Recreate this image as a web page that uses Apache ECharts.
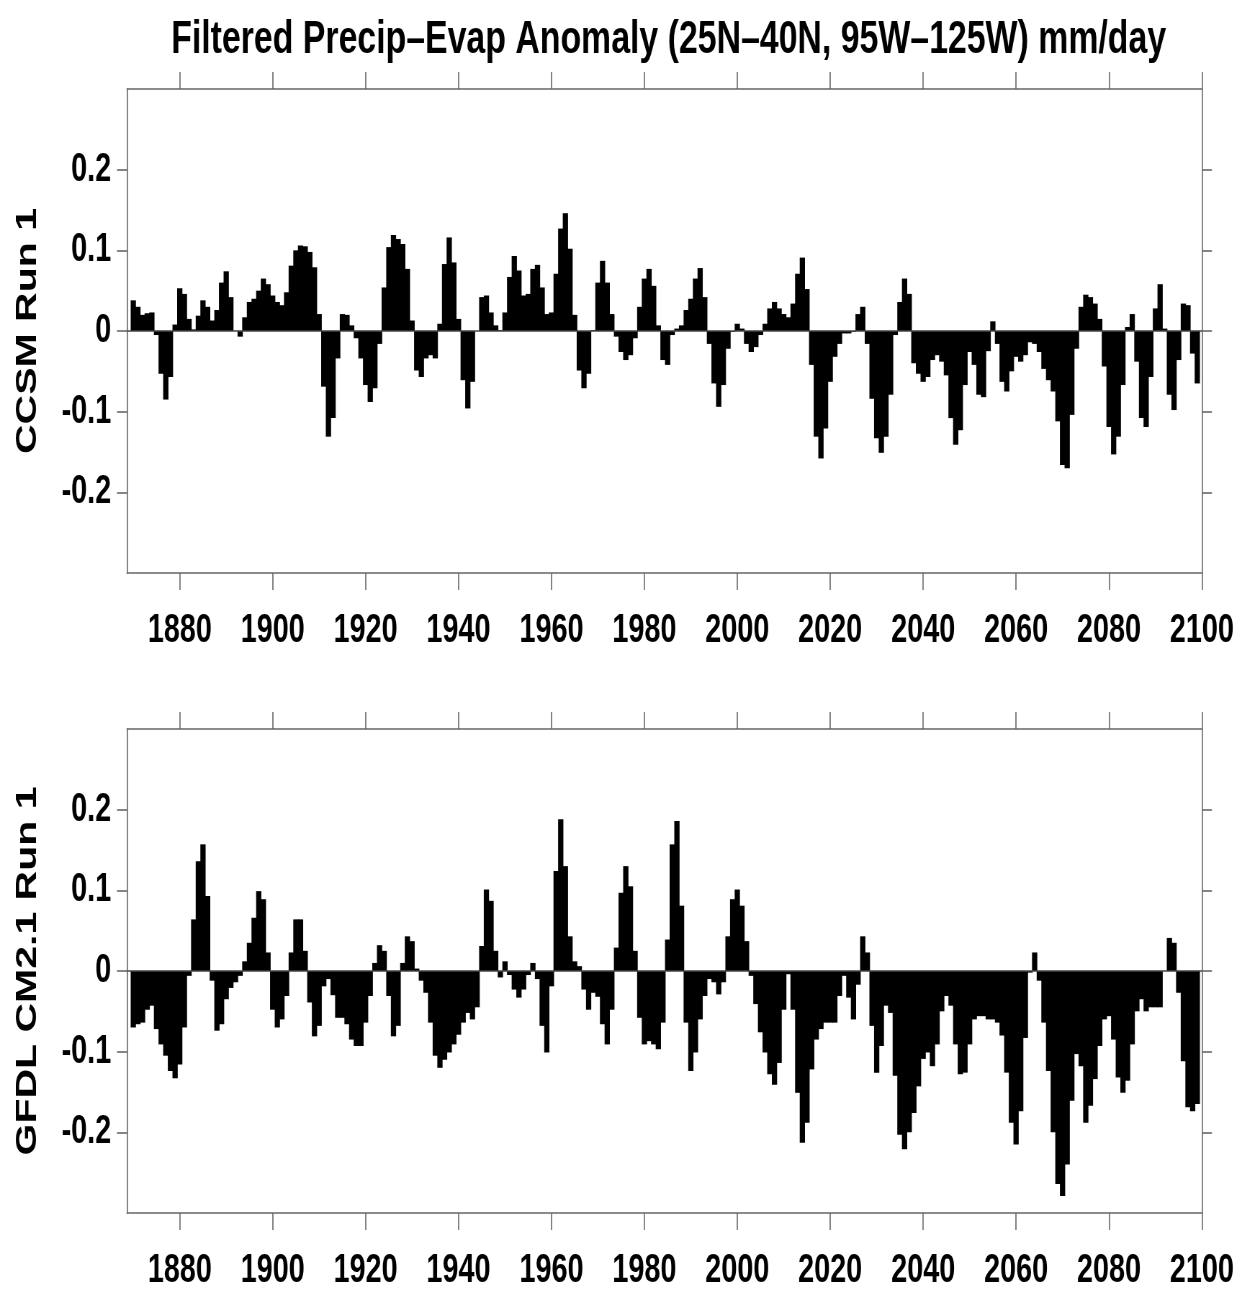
<!DOCTYPE html>
<html>
<head>
<meta charset="utf-8">
<script src="https://cdn.jsdelivr.net/npm/echarts@6/dist/echarts.min.js"></script>
<style>
html,body{margin:0;padding:0;background:#fff;overflow:hidden;}
#wrap{width:1250px;height:1293px;overflow:hidden;position:relative;}
#chart{width:1736px;height:1293px;transform:scaleX(0.72);transform-origin:0 0;position:absolute;left:0;top:0;}
</style>
</head>
<body>
<div id="wrap"><div id="chart"></div></div>
<script>
const START_YEAR = 1870;
const END_YEAR = 2099;
const tickYears = [1880, 1900, 1920, 1940, 1960, 1980, 2000, 2020, 2040, 2060, 2080, 2100];
const tickValues = [-0.2, -0.1, 0, 0.1, 0.2];
const titleText = 'Filtered Precip–Evap Anomaly (25N–40N, 95W–125W) mm/day';
const panelNames = ['CCSM Run 1', 'GFDL CM2.1 Run 1'];

// CCSM Run 1, one value per year 1870..2099
const ccsm = [
  0.038, 0.030, 0.020, 0.022, 0.023, -0.005, -0.053, -0.085, -0.057, 0.008,
  0.053, 0.046, 0.015, 0.002, 0.019, 0.038, 0.030, 0.013, 0.026, 0.060,
  0.074, 0.042, 0.000, -0.007, 0.017, 0.036, 0.040, 0.050, 0.065, 0.058,
  0.044, 0.036, 0.032, 0.048, 0.081, 0.100, 0.106, 0.105, 0.098, 0.079,
  0.021, -0.069, -0.131, -0.108, -0.034, 0.021, 0.020, 0.007, -0.009, -0.034,
  -0.067, -0.088, -0.071, -0.016, 0.054, 0.104, 0.119, 0.114, 0.108, 0.077,
  0.013, -0.049, -0.057, -0.034, -0.030, -0.034, 0.009, 0.083, 0.116, 0.085,
  0.015, -0.061, -0.096, -0.063, 0.000, 0.042, 0.044, 0.023, 0.007, 0.001,
  0.023, 0.067, 0.093, 0.075, 0.044, 0.046, 0.077, 0.082, 0.054, 0.021,
  0.023, 0.071, 0.127, 0.146, 0.102, 0.020, -0.049, -0.071, -0.053, 0.001,
  0.060, 0.087, 0.060, 0.021, -0.007, -0.026, -0.036, -0.030, -0.009, 0.030,
  0.065, 0.077, 0.056, 0.007, -0.036, -0.042, -0.005, 0.003, 0.007, 0.026,
  0.040, 0.065, 0.078, 0.042, -0.016, -0.065, -0.094, -0.067, -0.022, -0.001,
  0.009, 0.003, -0.016, -0.026, -0.020, -0.005, 0.009, 0.028, 0.036, 0.028,
  0.021, 0.017, 0.034, 0.071, 0.091, 0.052, -0.042, -0.131, -0.158, -0.121,
  -0.063, -0.032, -0.016, -0.003, -0.003, -0.001, 0.021, 0.030, -0.016, -0.084,
  -0.133, -0.151, -0.131, -0.079, -0.005, 0.036, 0.065, 0.046, -0.040, -0.053,
  -0.063, -0.057, -0.036, -0.030, -0.038, -0.055, -0.108, -0.141, -0.123, -0.067,
  -0.026, -0.042, -0.079, -0.082, -0.025, 0.012, -0.016, -0.063, -0.075, -0.050,
  -0.032, -0.038, -0.030, -0.014, -0.016, -0.026, -0.047, -0.061, -0.075, -0.112,
  -0.166, -0.170, -0.104, -0.022, 0.030, 0.045, 0.042, 0.034, 0.015, -0.044,
  -0.119, -0.153, -0.131, -0.067, 0.005, 0.021, -0.038, -0.108, -0.119, -0.057,
  0.028, 0.058, 0.003, -0.079, -0.098, -0.036, 0.034, 0.032, -0.028, -0.065
];

// GFDL CM2.1 Run 1, one value per year 1870..2099
const gfdl = [
  -0.070, -0.066, -0.064, -0.048, -0.043, -0.072, -0.091, -0.105, -0.124, -0.133,
  -0.116, -0.070, -0.006, 0.064, 0.136, 0.157, 0.093, -0.012, -0.074, -0.066,
  -0.035, -0.021, -0.014, -0.006, 0.012, 0.035, 0.066, 0.099, 0.089, 0.023,
  -0.048, -0.070, -0.060, -0.031, 0.023, 0.064, 0.064, 0.025, -0.039, -0.081,
  -0.068, -0.019, -0.010, -0.030, -0.058, -0.058, -0.066, -0.085, -0.093, -0.093,
  -0.064, -0.031, 0.010, 0.032, 0.025, -0.031, -0.081, -0.068, 0.010, 0.043,
  0.037, 0.003, -0.012, -0.027, -0.064, -0.105, -0.120, -0.110, -0.101, -0.091,
  -0.079, -0.064, -0.052, -0.060, -0.045, 0.031, 0.101, 0.087, 0.025, -0.008,
  0.012, -0.005, -0.023, -0.033, -0.023, -0.005, 0.010, -0.010, -0.068, -0.101,
  -0.019, 0.124, 0.188, 0.130, 0.043, 0.012, 0.006, -0.023, -0.048, -0.027,
  -0.032, -0.066, -0.091, -0.048, 0.029, 0.097, 0.130, 0.105, 0.025, -0.058,
  -0.091, -0.087, -0.091, -0.097, -0.064, 0.039, 0.157, 0.186, 0.081, -0.064,
  -0.124, -0.101, -0.060, -0.031, -0.010, -0.014, -0.029, -0.014, 0.043, 0.089,
  0.101, 0.081, 0.037, -0.006, -0.041, -0.076, -0.101, -0.128, -0.141, -0.114,
  -0.048, -0.004, -0.048, -0.151, -0.213, -0.188, -0.122, -0.085, -0.072, -0.064,
  -0.064, -0.064, -0.031, -0.006, -0.033, -0.060, -0.017, 0.043, 0.023, -0.068,
  -0.126, -0.093, -0.043, -0.052, -0.130, -0.203, -0.221, -0.200, -0.176, -0.143,
  -0.109, -0.101, -0.118, -0.091, -0.050, -0.031, -0.043, -0.091, -0.128, -0.126,
  -0.091, -0.060, -0.056, -0.056, -0.060, -0.060, -0.064, -0.080, -0.126, -0.188,
  -0.215, -0.174, -0.083, -0.002, 0.023, -0.012, -0.064, -0.124, -0.200, -0.264,
  -0.279, -0.240, -0.161, -0.103, -0.118, -0.188, -0.167, -0.134, -0.093, -0.060,
  -0.056, -0.085, -0.132, -0.151, -0.136, -0.091, -0.050, -0.035, -0.050, -0.045,
  -0.045, -0.045, 0.000, 0.041, 0.035, -0.027, -0.112, -0.169, -0.174, -0.165
];

const years = [];
for (let y = START_YEAR; y <= END_YEAR; y++) years.push(y);

// The page is drawn in a wider layout and squeezed horizontally (scaleX 0.72)
const SX = 0.72;
const FONT = "'Liberation Sans', Arial, Helvetica, sans-serif";
const frameColor = '#666';
const X_MIN = 1868.65, X_MAX = 2100;

const chart = echarts.init(document.getElementById('chart'), null, {renderer: 'canvas'});

const grids = [
  {left: 127 / SX, right: 48 / SX, top: 89, height: 484, containLabel: false, outerBoundsMode: 'none'},
  {left: 127 / SX, right: 48 / SX, top: 729, height: 484, containLabel: false, outerBoundsMode: 'none'}
];

const lineSt = {color: frameColor, width: 1.6};
const xAxes = [], yAxes = [], series = [];
[ccsm, gfdl].forEach((vals, g) => {
  xAxes.push({
    type: 'value', gridIndex: g, position: 'bottom', min: X_MIN, max: X_MAX,
    axisLine: {show: true, onZero: false, lineStyle: lineSt},
    axisTick: {show: true, inside: false, length: 17, customValues: tickYears, lineStyle: lineSt},
    axisLabel: {customValues: tickYears, formatter: v => String(v), margin: 38, color: '#000',
      fontFamily: FONT, fontWeight: 'bold', fontSize: 40, hideOverlap: false},
    splitLine: {show: false}
  });
  xAxes.push({
    type: 'value', gridIndex: g, position: 'top', min: X_MIN, max: X_MAX,
    axisLine: {show: true, onZero: false, lineStyle: lineSt},
    axisTick: {show: true, inside: false, length: 17, customValues: tickYears, lineStyle: lineSt},
    axisLabel: {show: false},
    splitLine: {show: false}
  });
  yAxes.push({
    type: 'value', gridIndex: g, position: 'left', min: -0.3, max: 0.3,
    name: panelNames[g], nameLocation: 'middle', nameGap: 117, nameRotate: 90, nameMoveOverlap: false,
    nameTextStyle: {color: '#000', fontFamily: FONT, fontWeight: 'bold', fontSize: 41},
    axisLine: {show: true, onZero: false, lineStyle: lineSt},
    axisTick: {show: true, inside: false, length: 10 / SX, customValues: tickValues, lineStyle: lineSt},
    axisLabel: {customValues: tickValues, formatter: v => String(v), margin: 22, color: '#000',
      fontFamily: FONT, fontWeight: 'bold', fontSize: 40},
    splitLine: {show: false}
  });
  yAxes.push({
    type: 'value', gridIndex: g, position: 'right', min: -0.3, max: 0.3,
    axisLine: {show: true, onZero: false, lineStyle: lineSt},
    axisTick: {show: true, inside: false, length: 10 / SX, customValues: tickValues, lineStyle: lineSt},
    axisLabel: {show: false},
    splitLine: {show: false}
  });
  series.push({
    type: 'bar', xAxisIndex: g * 2, yAxisIndex: g * 2,
    data: years.map((y, i) => [y, vals[i]]),
    barWidth: 7.3,
    itemStyle: {color: '#000'},
    silent: true,
    markLine: {
      silent: true, symbol: 'none', label: {show: false},
      lineStyle: {color: '#444', width: 1.6, type: 'solid'},
      data: [{yAxis: 0}]
    }
  });
});

chart.setOption({
  animation: false,
  backgroundColor: '#fff',
  title: {
    text: titleText, left: 665 / SX, top: 12, textAlign: 'center',
    textStyle: {color: '#000', fontFamily: FONT, fontWeight: 'bold', fontSize: 47}
  },
  grid: grids,
  xAxis: xAxes,
  yAxis: yAxes,
  series: series
});
</script>
</body>
</html>
